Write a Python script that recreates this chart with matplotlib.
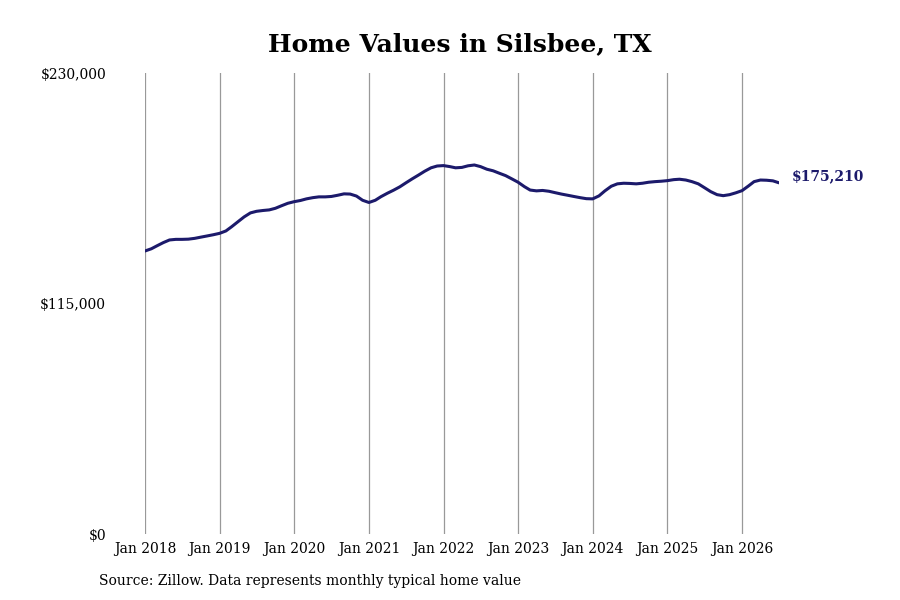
import matplotlib
matplotlib.use("Agg")
import matplotlib.pyplot as plt
import pandas as pd

plt.rcParams['font.family'] = ['DejaVu Serif']

start_month = "2018-01-01"
values = [
    141200, 142300, 143800, 145400, 146700, 147000, 147000, 147100, 147500, 148100, 148700, 149300,
    150000, 151200, 153300, 155800, 158200, 160200, 161000, 161400, 161700, 162500, 163800, 165000,
    165800, 166400, 167200, 167800, 168200, 168200, 168400, 169000, 169700, 169600, 168600, 166500,
    165400, 166500, 168300, 170000, 171500, 173200, 175200, 177200, 179100, 181000, 182700, 183600,
    183800, 183300, 182700, 182900, 183700, 184100, 183300, 182000, 181200, 180000, 178800, 177200,
    175500, 173300, 171600, 171200, 171400, 171000, 170300, 169600, 169000, 168400, 167800, 167300,
    167200, 168700, 171200, 173500, 174700, 175000, 174900, 174700, 175000, 175500, 175800, 176000,
    176300, 176800, 177000, 176600, 175800, 174700, 172800, 170800, 169300, 168800, 169300, 170200,
    171300, 173600, 175800, 176600, 176500, 176200, 175210,
]
dates = pd.date_range(start_month, periods=len(values), freq="MS")
tick_years = list(range(2018, 2027))
tick_labels = [f"Jan {y}" for y in tick_years]
y_ticks = [0, 115000, 230000]
y_tick_labels = ["$0", "$115,000", "$230,000"]
title = "Home Values in Silsbee, TX"
source = "Source: Zillow. Data represents monthly typical home value"
last_label = "$175,210"

fig = plt.figure(figsize=(9, 6), dpi=100)
ax = fig.add_axes([145/900, 1 - 534/600, (779-145)/900, (534-73)/600])

line_color = "#1c1a6b"
ax.plot(dates, values, color=line_color, linewidth=2.2, solid_capstyle="round")

ax.set_xlim(dates[0], dates[-1])
ax.set_ylim(0, 230000)
tick_dates = [pd.Timestamp(f"{y}-01-01") for y in tick_years]
ax.set_xticks(tick_dates)
ax.set_xticklabels(tick_labels, fontsize=10)
ax.set_yticks(y_ticks)
ax.set_yticklabels(y_tick_labels, fontsize=10)
ax.grid(axis="x", color="#999999", linewidth=0.9)
ax.grid(axis="y", visible=False)
for s in ax.spines.values():
    s.set_visible(False)
ax.tick_params(axis="x", length=0, pad=6)
ax.tick_params(axis="y", length=0, pad=28)

ax.annotate(last_label, xy=(dates[-1], values[-1]), xytext=(9, 4.5), textcoords="offset points",
            fontsize=10, fontweight="bold", color=line_color, va="center", ha="left")

fig.text(460/900, 1 - 44/600, title, fontsize=18, fontweight="bold", ha="center", va="center")
fig.text(99/900, 1 - 581/600, source, fontsize=10, ha="left", va="center")

fig.savefig("out.png", dpi=100)
